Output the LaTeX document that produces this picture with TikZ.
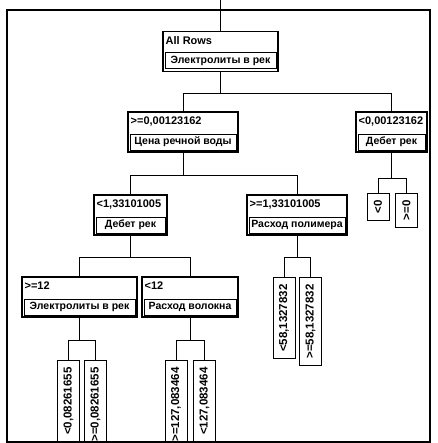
\documentclass[tikz,border=0pt]{standalone}
\usepackage{fontspec}
\setmainfont{Liberation Sans}
\usetikzlibrary{positioning}

\begin{document}
\begin{tikzpicture}[x=1pt, y=-1pt,
  splitbox/.style={
    rectangle, draw, line width=1.1pt,
    minimum width=#1, minimum height=40pt, inner sep=0pt
  },
  condtext/.style={
    font=\bfseries\fontsize{11}{12}\selectfont,
    inner sep=1pt, anchor=north west
  },
  varbox/.style={
    rectangle, draw, line width=0.8pt,
    font=\bfseries\fontsize{10.5}{12}\selectfont,
    minimum width=#1, minimum height=16pt, inner xsep=2pt, inner ysep=1pt,
    anchor=south
  },
  leafbox/.style={
    rectangle, draw, line width=0.9pt,
    rotate=90, anchor=east,
    font=\bfseries\fontsize{11.5}{12}\selectfont,
    minimum height=22pt, inner xsep=7pt, inner ysep=2pt
  },
  branch/.style={line width=0.9pt}
]
\useasboundingbox (0,0) rectangle (437,443);
\draw[line width=1.2pt] (7,10) rectangle (430,442);

% split nodes
\node[splitbox=115pt] (allrows) at (220.5,51.5) {};
\node[condtext] at ([shift={(2pt,-4pt)}]allrows.north west) {All Rows};
\node[varbox=111pt] at ([yshift=3pt]allrows.south) {Электролиты в рек};

\node[splitbox=110pt] (cena) at (183,132) {};
\node[condtext] at ([shift={(2pt,-4pt)}]cena.north west) {>=0,00123162};
\node[varbox=106pt] at ([yshift=2pt]cena.south) {Цена речной воды};

\node[splitbox=71pt] (debet) at (391.5,132) {};
\node[condtext] at ([shift={(2pt,-4pt)}]debet.north west) {<0,00123162};
\node[varbox=67pt] at ([yshift=2pt]debet.south) {Дебет рек};

\node[splitbox=73pt] (debetl) at (130.5,215) {};
\node[condtext] at ([shift={(2pt,-4pt)}]debetl.north west) {<1,33101005};
\node[varbox=69pt] at ([yshift=2pt]debetl.south) {Дебет рек};

\node[splitbox=100pt] (rashpol) at (297,215) {};
\node[condtext] at ([shift={(2pt,-4pt)}]rashpol.north west) {>=1,33101005};
\node[varbox=96pt] at ([yshift=2pt]rashpol.south) {Расход полимера};

\node[splitbox=115pt] (elektr) at (79.5,297) {};
\node[condtext] at ([shift={(2pt,-4pt)}]elektr.north west) {>=12};
\node[varbox=111pt] at ([yshift=2pt]elektr.south) {Электролиты в рек};

\node[splitbox=96pt] (rashvol) at (190,297) {};
\node[condtext] at ([shift={(2pt,-4pt)}]rashvol.north west) {<12};
\node[varbox=92pt] at ([yshift=2pt]rashvol.south) {Расход волокна};

% leaves
\node[leafbox] (debetlt) at (378,193) {<0};
\node[leafbox] (debetge) at (406.5,193) {>=0};
\node[leafbox] (pollt) at (284,277) {<58,1327832};
\node[leafbox] (polge) at (310.5,277) {>=58,1327832};
\node[leafbox] (ellt) at (68.5,360) {<0,08261655};
\node[leafbox] (elge) at (95.5,360) {>=0,08261655};
\node[leafbox] (volge) at (176,360) {>=127,083464};
\node[leafbox] (vollt) at (204.5,360) {<127,083464};

% branch points
\coordinate[above=31pt of allrows] (top);
\coordinate[below=21pt of allrows] (allrowssplit);
\coordinate[below=23pt of cena] (cenasplit);
\coordinate[below=26pt of debet] (debetsplit);
\coordinate[below=22pt of debetl] (debetlsplit);
\coordinate[below=22pt of rashpol] (rashpolsplit);
\coordinate[below=23pt of elektr] (elektrsplit);
\coordinate[below=23pt of rashvol] (rashvolsplit);

\draw[branch] (top) -- (allrows);
\draw[branch] (allrows) -- (allrowssplit) -| (cena);
\draw[branch] (allrowssplit) -| (debet);
\draw[branch] (cena) -- (cenasplit) -| (debetl);
\draw[branch] (cenasplit) -| (rashpol);
\draw[branch] (debet) -- (debetsplit) -| (debetlt);
\draw[branch] (debetsplit) -| (debetge);
\draw[branch] (debetl) -- (debetlsplit) -| (elektr);
\draw[branch] (debetlsplit) -| (rashvol);
\draw[branch] (rashpol) -- (rashpolsplit) -| (pollt);
\draw[branch] (rashpolsplit) -| (polge);
\draw[branch] (elektr) -- (elektrsplit) -| (ellt);
\draw[branch] (elektrsplit) -| (elge);
\draw[branch] (rashvol) -- (rashvolsplit) -| (volge);
\draw[branch] (rashvolsplit) -| (vollt);
\end{tikzpicture}
\end{document}
